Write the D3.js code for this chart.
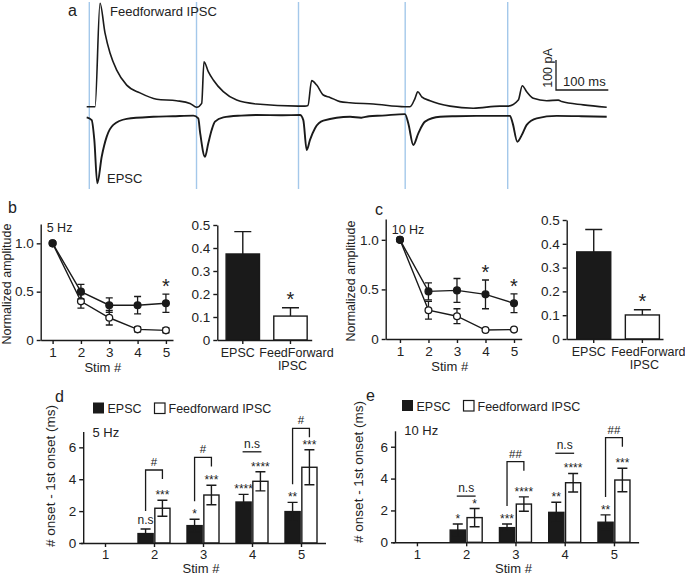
<!DOCTYPE html>
<html><head><meta charset="utf-8">
<script src="https://cdn.jsdelivr.net/npm/d3@7"></script>
<style>
body{margin:0;background:#fff}
svg{display:block}
text{font-family:"Liberation Sans",Arial,Helvetica,sans-serif;fill:#222}
</style>
</head><body>
<svg id="fig" width="685" height="575"></svg>
<script>
// ---------------- DATA ----------------
// panel a: example traces (time in ms, current in pA)
const stimTimes = [0, 205, 400, 604, 800];
const ipscTrace = [[-5,0],[11,0],[20.5,345],[30,246],[39.6,179],[52.4,122],[71.5,72],[96.9,46],[128.9,25],[167,20],[192.5,11],[205.4,-2],[214.9,11],[219.3,150],[227.5,117],[237.1,89],[256.2,50],[281.8,22],[320,9],[399.6,2],[412.4,2],[418,4],[425.2,87],[434.8,72],[447.4,39],[460.2,31],[479.3,17],[498.5,13],[543,9],[603.6,0],[613.2,0],[622.8,28],[628,50],[635.6,33],[651.5,20],[689.7,2],[734.3,-5],[785.3,2],[801.1,2],[820.3,22],[827.9,70],[836.3,50],[849,28],[874.6,20],[896.8,22],[903.3,17],[944.6,6],[989.3,-2]];
const epscTrace = [[-5,-3],[4.6,-12],[9.6,-78],[15.3,-223],[23.7,-134],[33.3,-67],[45.9,-28],[71.5,-8],[122.4,-1],[160,1],[198.9,3],[208.4,-6],[211.7,-51],[221.2,-134],[227.5,-89],[234,-45],[240.3,-17],[256.2,-3],[290,3],[320,5],[370,4],[402.9,5],[409.2,-12],[415.7,-112],[422,-78],[431.6,-39],[447.4,-14],[498.5,-1],[520,-4],[535,1],[560,3],[603.6,8],[610,-23],[619.5,-95],[629.1,-56],[641.9,-17],[670.6,-1],[700,1],[740,2],[785.3,2],[804.4,2],[809.6,-23],[818.4,-84],[826.8,-62],[836.3,-28],[855.4,-6],[893.7,2],[940,1],[989.3,-1]];
const scaleBarPA = 100, scaleBarMS = 100;

// panels b, c: normalized amplitude
const stims = [1, 2, 3, 4, 5];
const amp5EPSC = [1.0, 0.50, 0.36, 0.36, 0.38];
const amp5EPSCerr = [0, 0.075, 0.075, 0.09, 0.095];
const amp5IPSC = [1.0, 0.40, 0.23, 0.11, 0.10];
const amp5IPSCerr = [0, 0.07, 0.075, 0.025, 0.025];
const amp10EPSC = [1.0, 0.48, 0.49, 0.45, 0.36];
const amp10EPSCerr = [0, 0.085, 0.12, 0.145, 0.095];
const amp10IPSC = [1.0, 0.29, 0.23, 0.09, 0.095];
const amp10IPSCerr = [0, 0.09, 0.075, 0.01, 0.01];
const ratioCats = ["EPSC", "FeedForward IPSC"];
const ratio5 = [0.374, 0.104];
const ratio5err = [0.097, 0.036];
const ratio10 = [0.366, 0.101];
const ratio10err = [0.094, 0.022];

// panels d, e: onset delay (ms)
const onset5EPSC = [0, 0.59, 1.09, 2.57, 1.97];
const onset5EPSCerr = [0, 0.29, 0.40, 0.48, 0.58];
const onset5IPSC = [0, 2.18, 3.01, 3.87, 4.75];
const onset5IPSCerr = [0, 0.50, 0.61, 0.60, 1.10];
const onset10EPSC = [0, 0.77, 0.92, 1.88, 1.26];
const onset10EPSCerr = [0, 0.38, 0.23, 0.63, 0.46];
const onset10IPSC = [0, 1.55, 2.40, 3.74, 3.91];
const onset10IPSCerr = [0, 0.57, 0.45, 0.58, 0.74];
const sig5EPSC = ["", "n.s", "*", "****", "**"];
const sig5IPSC = ["", "***", "***", "****", "***"];
const cmp5 = ["", "#", "#", "n.s", "#"];
const cmp5Level = [null, 4.58, 5.37, 5.72, 7.19];
const sig10EPSC = ["", "*", "***", "**", "**"];
const sig10IPSC = ["", "*", "****", "****", "***"];
const cmp10 = ["", "n.s", "##", "n.s", "##"];
const cmp10Level = [null, 2.9, 5.06, 5.59, 6.57];

// ---------------- DRAWING ----------------
const svg = d3.select("#fig");
const INK = "#1a1a1a";
svg.append("rect").attr("width",685).attr("height",575).attr("fill","#fff");

function txt(x, y, s, size, anchor, rot){
  const t = svg.append("text").attr("font-size", size).attr("text-anchor", anchor || "start").text(s);
  if (rot) t.attr("transform", `translate(${x},${y}) rotate(${rot})`);
  else t.attr("x", x).attr("y", y);
  return t;
}
function styleAxis(g, fs){
  g.select(".domain").attr("stroke", INK).attr("stroke-width", 1.4);
  g.selectAll(".tick line").attr("stroke", INK).attr("stroke-width", 1.4);
  g.selectAll(".tick text").attr("font-size", fs).attr("fill", "#222")
    .attr("font-family", '"Liberation Sans",Arial,sans-serif');
}

// ===== Panel a =====
const xT = d3.scaleLinear().domain([0, 800]).range([89.3, 507.7]);
const yI = d3.scaleLinear().domain([0, 100]).range([106.7, 76.7]);
const yE = d3.scaleLinear().domain([0, 100]).range([116.5, 86.5]);
svg.append("g").selectAll("line").data(stimTimes).join("line")
  .attr("x1", d => xT(d)).attr("x2", d => xT(d))
  .attr("y1", 2).attr("y2", 189)
  .attr("stroke", "#a4c8ea").attr("stroke-width", 1.4);
const lineI = d3.line().x(d => xT(d[0])).y(d => yI(d[1])).curve(d3.curveMonotoneX);
const lineE = d3.line().x(d => xT(d[0])).y(d => yE(d[1])).curve(d3.curveMonotoneX);
svg.append("path").attr("d", lineI(ipscTrace)).attr("fill","none").attr("stroke", INK).attr("stroke-width",1.6).attr("stroke-linejoin","round");
svg.append("path").attr("d", lineE(epscTrace)).attr("fill","none").attr("stroke", INK).attr("stroke-width",1.9).attr("stroke-linejoin","round");
// scale bar
const sbX = 556, sbY = 90;
const sbLenY = yI(0) - yI(scaleBarPA), sbLenX = xT(scaleBarMS) - xT(0);
svg.append("path").attr("d", `M${sbX},${sbY - sbLenY}V${sbY}H${sbX + sbLenX}`)
  .attr("fill","none").attr("stroke", INK).attr("stroke-width",1.3);
txt(552, sbY - sbLenY/2 - 7, scaleBarPA + " pA", 12.5, "middle", -90);
txt(563, 86, scaleBarMS + " ms", 13);
txt(68, 16, "a", 16);
txt(110, 16, "Feedforward IPSC", 13);
txt(107, 183, "EPSC", 13);

// ===== line chart helper (b, c) =====
function lineChart(cfg){
  const x = d3.scaleLinear().domain(cfg.xDom).range(cfg.xRange);
  const y = d3.scaleLinear().domain([0, cfg.yMax]).range(cfg.yRange);
  const gx = svg.append("g").attr("transform", `translate(0,${cfg.yRange[0]})`)
    .call(d3.axisBottom(x).tickValues(stims).tickSize(4).tickSizeOuter(0).tickFormat(d3.format("d")));
  styleAxis(gx, 13.5);
  const gy = svg.append("g").attr("transform", `translate(${cfg.xRange[0]},0)`)
    .call(d3.axisLeft(y).tickValues([0, 0.5, 1]).tickSize(4).tickSizeOuter(0)
      .tickFormat(d => d === 0 ? "0" : d3.format(".1f")(d)));
  styleAxis(gy, 13.5);
  const series = [
    {v: cfg.ipsc, e: cfg.ipscErr, fill: "#fff"},
    {v: cfg.epsc, e: cfg.epscErr, fill: INK}
  ];
  series.forEach(s => {
    const g = svg.append("g");
    g.append("path").attr("d", d3.line().x((d,i) => x(stims[i])).y(d => y(d))(s.v))
      .attr("fill","none").attr("stroke", INK).attr("stroke-width",1.4);
    s.v.forEach((v,i) => {
      if (!s.e[i]) return;
      const cx = x(stims[i]), t = y(v + s.e[i]), b = y(v - s.e[i]);
      g.append("path").attr("d", `M${cx},${t}V${b}M${cx-3.5},${t}H${cx+3.5}M${cx-3.5},${b}H${cx+3.5}`)
        .attr("stroke", INK).attr("stroke-width",1.3).attr("fill","none");
    });
    g.selectAll("circle").data(s.v).join("circle")
      .attr("cx", (d,i) => x(stims[i])).attr("cy", d => y(d)).attr("r", 3.4)
      .attr("fill", s.fill).attr("stroke", INK).attr("stroke-width", 1.3);
  });
  cfg.stars.forEach(si => {
    const i = stims.indexOf(si);
    txt(x(si), y(cfg.epsc[i] + cfg.epscErr[i]) - 1, "*", 20, "middle");
  });
  txt(cfg.xRange[0] + 6, cfg.hzY, cfg.hz, 12.5);
  txt(cfg.titleX, (cfg.yRange[0] + cfg.yRange[1]) / 2 + 2, "Normalized amplitude", 12.5, "middle", -90);
  txt((cfg.xRange[0] + cfg.xRange[1]) / 2 - 4, cfg.yRange[0] + 32, "Stim #", 13, "middle");
}
function ratioChart(cfg){
  const x = d3.scaleBand().domain(ratioCats).range(cfg.xRange).paddingInner(0.3).paddingOuter(0.14).align(cfg.align);
  const y = d3.scaleLinear().domain([0, 0.5]).range(cfg.yRange);
  svg.append("g").selectAll("rect").data(cfg.v).join("rect")
    .attr("x", (d,i) => x(ratioCats[i])).attr("width", x.bandwidth())
    .attr("y", d => y(d)).attr("height", d => y(0) - y(d))
    .attr("fill", (d,i) => i === 0 ? INK : "#fff").attr("stroke", INK).attr("stroke-width", 1.4);
  cfg.v.forEach((v,i) => {
    const cx = x(ratioCats[i]) + x.bandwidth()/2, t = y(v + cfg.e[i]);
    svg.append("path").attr("d", `M${cx},${y(v)}V${t}M${cx-8.5},${t}H${cx+8.5}`)
      .attr("stroke", INK).attr("stroke-width",1.4).attr("fill","none");
  });
  const gx = svg.append("g").attr("transform", `translate(0,${cfg.yRange[0]})`)
    .call(d3.axisBottom(x).tickSize(4).tickSizeOuter(0).tickFormat(""));
  styleAxis(gx, 12);
  const gy = svg.append("g").attr("transform", `translate(${cfg.xRange[0]},0)`)
    .call(d3.axisLeft(y).tickValues([0,0.1,0.2,0.3,0.4,0.5]).tickSize(4).tickSizeOuter(0)
      .tickFormat(d => d === 0 ? "0" : d3.format(".1f")(d)));
  styleAxis(gy, 13.5);
  const c0 = x(ratioCats[0]) + x.bandwidth()/2, c1 = x(ratioCats[1]) + x.bandwidth()/2;
  txt(c0 - 5, cfg.yRange[0] + 17, "EPSC", 12.5, "middle");
  txt(c1 + 6, cfg.yRange[0] + 17, "FeedForward", 12.5, "middle");
  txt(c1 + 2, cfg.yRange[0] + 30, "IPSC", 12.5, "middle");
  txt(c1, y(cfg.v[1] + cfg.e[1]) - 2, "*", 20, "middle");
}

// ===== Panel b =====
txt(8, 213, "b", 16);
lineChart({xDom:[0.58,5.25], xRange:[40.7,173], yMax:1.2, yRange:[340,224],
  epsc: amp5EPSC, epscErr: amp5EPSCerr, ipsc: amp5IPSC, ipscErr: amp5IPSCerr,
  stars:[5], hz:"5 Hz", hzY:232, titleX:11});
ratioChart({xRange:[217.3,311.7], align:0.66, yRange:[340,225], v: ratio5, e: ratio5err});

// ===== Panel c =====
txt(375, 215, "c", 16);
lineChart({xDom:[0.5,5.27], xRange:[385.7,521.7], yMax:1.21, yRange:[339,219],
  epsc: amp10EPSC, epscErr: amp10EPSCerr, ipsc: amp10IPSC, ipscErr: amp10IPSCerr,
  stars:[4,5], hz:"10 Hz", hzY:234, titleX:355});
ratioChart({xRange:[566.7,663], align:0.735, yRange:[339,220], v: ratio10, e: ratio10err});

// ===== onset bar charts (d, e) =====
function onsetChart(cfg){
  const x = d3.scalePoint().domain(stims).range(cfg.xRange).padding(0.5);
  const sub = d3.scaleBand().domain(["EPSC","IPSC"]).range([-16, 16]).paddingInner(0.1);
  const y = d3.scaleLinear().domain([0, 7]).range(cfg.yRange);
  const groups = [
    {k:"EPSC", v: cfg.epsc, e: cfg.epscErr, fill: INK, sig: cfg.sigE},
    {k:"IPSC", v: cfg.ipsc, e: cfg.ipscErr, fill: "#fff", sig: cfg.sigI}
  ];
  const bw = sub.bandwidth();
  const cxOf = (k, i) => x(stims[i]) + sub(k) + bw/2;
  groups.forEach(gr => {
    const g = svg.append("g");
    const idx = gr.v.map((d,i) => i).filter(i => gr.v[i] > 0);
    g.selectAll("rect").data(idx).join("rect")
      .attr("x", i => x(stims[i]) + sub(gr.k)).attr("width", bw)
      .attr("y", i => y(gr.v[i])).attr("height", i => y(0) - y(gr.v[i]))
      .attr("fill", gr.fill).attr("stroke", INK).attr("stroke-width", 1.4);
    idx.forEach(i => {
      const cx = cxOf(gr.k, i), t = y(gr.v[i] + gr.e[i]), b = y(gr.v[i] - gr.e[i]);
      g.append("path").attr("d", `M${cx},${t}V${b}M${cx-5},${t}H${cx+5}M${cx-5},${b}H${cx+5}`)
        .attr("stroke", INK).attr("stroke-width",1.4).attr("fill","none");
      const s = gr.sig[i];
      const cy = t - 8;
      const base = s.indexOf("*") >= 0 ? cy + 7 : cy + 3;
      txt(cx, base, s, 12, "middle");
    });
  });
  // comparisons
  stims.forEach((st, i) => {
    const c = cfg.cmp[i];
    if (!c) return;
    const xl = cxOf("EPSC", i), xr = cxOf("IPSC", i), top = y(cfg.cmpLevel[i]);
    if (c.indexOf("#") >= 0){
      const eLab = y(cfg.epsc[i] + cfg.epscErr[i]) - 8;
      svg.append("path").attr("d", `M${xl},${eLab - 10}V${top}H${xr}V${top + 9}`)
        .attr("fill","none").attr("stroke", INK).attr("stroke-width",1.3);
      txt((xl + xr)/2, top - 4, c, 11.5, "middle");
    } else {
      svg.append("path").attr("d", `M${xl - 1},${top}H${xr + 1}`)
        .attr("stroke", INK).attr("stroke-width",1.3);
      txt((xl + xr)/2, top - 4, c, 12, "middle");
    }
  });
  const gx = svg.append("g").attr("transform", `translate(0,${cfg.yRange[0]})`)
    .call(d3.axisBottom(x).tickSize(4).tickSizeOuter(0));
  styleAxis(gx, 13);
  const gy = svg.append("g").attr("transform", `translate(${cfg.xRange[0] + 2.7},0)`)
    .call(d3.axisLeft(y).tickValues([0,2,4,6]).tickSize(4).tickSizeOuter(0).tickFormat(d3.format("d")));
  styleAxis(gy, 13.5);
  // legend
  const lx = cfg.legX, ly = cfg.legY;
  svg.append("rect").attr("x", lx).attr("y", ly - 10.5).attr("width", 11).attr("height", 11).attr("fill", INK);
  txt(lx + 14.5, ly, "EPSC", 12.5);
  svg.append("rect").attr("x", lx + 61.5).attr("y", ly - 10).attr("width", 10.5).attr("height", 10.5)
    .attr("fill", "#fff").attr("stroke", INK).attr("stroke-width", 1.2);
  txt(lx + 75.5, ly, "Feedforward IPSC", 12.5);
  txt(cfg.xRange[0] + 12, cfg.hzY, cfg.hz, 13);
  txt(cfg.titleX, cfg.titleY, "# onset - 1st onset (ms)", 13.5, "middle", -90);
  txt((cfg.xRange[0] + cfg.xRange[1]) / 2 - 2, 573, "Stim #", 13, "middle");
}

txt(55, 402, "d", 16);
onsetChart({xRange:[80.5,325.5], yRange:[543,431.4],
  epsc: onset5EPSC, epscErr: onset5EPSCerr, ipsc: onset5IPSC, ipscErr: onset5IPSCerr,
  sigE: sig5EPSC, sigI: sig5IPSC, cmp: cmp5, cmpLevel: cmp5Level,
  legX: 93, legY: 413, hz: "5 Hz", hzY: 437, titleX: 54.5, titleY: 476});

txt(366, 401, "e", 16);
onsetChart({xRange:[392.3,638.6], yRange:[542.3,430.8],
  epsc: onset10EPSC, epscErr: onset10EPSCerr, ipsc: onset10IPSC, ipscErr: onset10IPSCerr,
  sigE: sig10EPSC, sigI: sig10IPSC, cmp: cmp10, cmpLevel: cmp10Level,
  legX: 402, legY: 410.5, hz: "10 Hz", hzY: 435, titleX: 362.5, titleY: 472});
</script>
</body></html>
